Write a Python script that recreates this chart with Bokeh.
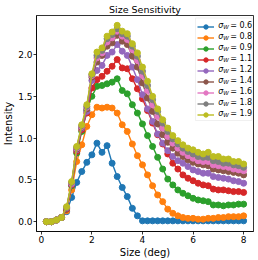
from bokeh.plotting import figure
from bokeh.models import Range1d, FixedTicker, PrintfTickFormatter, Legend, LegendItem, Label, BoxAnnotation
from bokeh.core.properties import value
from bokeh.embed import file_html
from bokeh.resources import INLINE

size_deg = [0.2, 0.4, 0.6, 0.8, 1.0, 1.2, 1.4, 1.6, 1.8, 2.0,
            2.2, 2.4, 2.6, 2.8, 3.0, 3.2, 3.4, 3.6, 3.8, 4.0,
            4.2, 4.4, 4.6, 4.8, 5.0, 5.2, 5.4, 5.6, 5.8, 6.0,
            6.2, 6.4, 6.6, 6.8, 7.0, 7.2, 7.4, 7.6, 7.8, 8.0]

sigma_w_labels = ["0.6", "0.8", "0.9", "1.1", "1.2", "1.4", "1.6", "1.8", "1.9"]

int_06 = [0.00, 0.00, 0.02, 0.05, 0.12, 0.29, 0.47, 0.60, 0.71, 0.80,
          0.94, 0.83, 0.91, 0.70, 0.54, 0.41, 0.30, 0.16, 0.07, 0.01,
          0.01, 0.01, 0.01, 0.01, 0.01, 0.01, 0.01, 0.01, 0.01, 0.01,
          0.01, 0.01, 0.01, 0.01, 0.01, 0.01, 0.01, 0.01, 0.01, 0.01]
int_08 = [0.00, 0.00, 0.02, 0.05, 0.13, 0.38, 0.72, 0.92, 1.14, 1.28,
          1.37, 1.36, 1.37, 1.36, 1.30, 1.16, 1.08, 0.93, 0.79, 0.68,
          0.56, 0.43, 0.32, 0.24, 0.15, 0.10, 0.07, 0.05, 0.04, 0.04,
          0.03, 0.03, 0.04, 0.04, 0.05, 0.05, 0.06, 0.06, 0.06, 0.07]
int_09 = [0.00, 0.00, 0.02, 0.05, 0.15, 0.43, 0.82, 1.08, 1.33, 1.50,
          1.62, 1.63, 1.65, 1.67, 1.71, 1.57, 1.53, 1.40, 1.30, 1.17,
          1.03, 0.90, 0.77, 0.63, 0.51, 0.44, 0.38, 0.34, 0.31, 0.28,
          0.26, 0.25, 0.24, 0.20, 0.20, 0.19, 0.20, 0.20, 0.21, 0.21]
int_11 = [0.00, 0.00, 0.02, 0.05, 0.15, 0.44, 0.84, 1.10, 1.30, 1.60,
          1.70, 1.74, 1.80, 1.86, 1.94, 1.84, 1.83, 1.71, 1.59, 1.47,
          1.33, 1.18, 1.04, 0.93, 0.81, 0.70, 0.63, 0.56, 0.52, 0.49,
          0.46, 0.44, 0.43, 0.39, 0.38, 0.38, 0.37, 0.36, 0.36, 0.35]
int_12 = [0.00, 0.00, 0.02, 0.05, 0.16, 0.45, 0.86, 1.12, 1.32, 1.69,
          1.81, 1.87, 1.99, 2.03, 2.12, 2.04, 1.99, 1.85, 1.70, 1.52,
          1.35, 1.20, 1.05, 0.94, 0.85, 0.78, 0.73, 0.70, 0.66, 0.62,
          0.60, 0.58, 0.58, 0.54, 0.53, 0.52, 0.51, 0.49, 0.48, 0.46]
int_14 = [0.00, 0.00, 0.02, 0.05, 0.16, 0.46, 0.87, 1.13, 1.35, 1.73,
          1.91, 1.99, 2.10, 2.14, 2.23, 2.16, 2.12, 1.98, 1.85, 1.66,
          1.48, 1.32, 1.17, 1.04, 0.95, 0.88, 0.82, 0.78, 0.74, 0.71,
          0.69, 0.68, 0.67, 0.63, 0.62, 0.61, 0.60, 0.59, 0.58, 0.56]
int_16 = [0.00, 0.00, 0.02, 0.05, 0.17, 0.46, 0.88, 1.14, 1.37, 1.75,
          1.96, 2.02, 2.15, 2.20, 2.28, 2.22, 2.18, 2.06, 1.93, 1.75,
          1.57, 1.40, 1.26, 1.12, 1.02, 0.94, 0.88, 0.83, 0.79, 0.76,
          0.73, 0.72, 0.72, 0.68, 0.67, 0.66, 0.65, 0.63, 0.62, 0.61]
int_18 = [0.00, 0.00, 0.02, 0.05, 0.17, 0.47, 0.89, 1.15, 1.38, 1.76,
          1.99, 2.05, 2.19, 2.24, 2.31, 2.25, 2.22, 2.10, 1.98, 1.80,
          1.63, 1.46, 1.32, 1.18, 1.08, 0.99, 0.93, 0.88, 0.84, 0.81,
          0.78, 0.77, 0.77, 0.73, 0.72, 0.70, 0.70, 0.68, 0.67, 0.65]
int_19 = [0.00, 0.00, 0.02, 0.05, 0.18, 0.48, 0.90, 1.16, 1.40, 1.77,
          2.03, 2.08, 2.22, 2.27, 2.35, 2.28, 2.25, 2.13, 2.02, 1.85,
          1.68, 1.50, 1.35, 1.22, 1.12, 1.03, 0.97, 0.92, 0.88, 0.86,
          0.83, 0.81, 0.83, 0.78, 0.78, 0.75, 0.75, 0.72, 0.72, 0.69]

series = [int_06, int_08, int_09, int_11, int_12, int_14, int_16, int_18, int_19]
colors = ["#1f77b4", "#ff7f0e", "#2ca02c", "#d62728", "#9467bd",
          "#8c564b", "#e377c2", "#7f7f7f", "#bcbd22"]

x_ticks = [0, 2, 4, 6, 8]
y_ticks = [0.0, 0.5, 1.0, 1.5, 2.0]

xmin, xmax = min(size_deg), max(size_deg)
ymin = min(min(s) for s in series)
ymax = max(max(s) for s in series)
xpad = 0.05 * (xmax - xmin)
ypad = 0.05 * (ymax - ymin)
X0, X1 = xmin - xpad, xmax + xpad
Y0, Y1 = ymin - ypad, ymax + ypad

FONT = "DejaVu Sans"
W, H = 258, 260
B_LEFT, B_RIGHT, B_TOP, B_BOTTOM = 34, 5, 14, 29

p = figure(width=W, height=H, output_backend="svg", toolbar_location=None,
           x_range=Range1d(X0, X1), y_range=Range1d(Y0, Y1),
           title="Size Sensitivity")
p.min_border_left = B_LEFT
p.min_border_right = B_RIGHT
p.min_border_top = B_TOP
p.min_border_bottom = B_BOTTOM

p.title.text_font = FONT
p.title.text_font_size = "9.5px"
p.title.text_font_style = "normal"
p.title.text_color = "black"
p.title.align = "center"
p.title.standoff = 2
p.title.offset = 0

p.xgrid.visible = False
p.ygrid.visible = False
p.outline_line_color = "black"
p.outline_line_width = 0.8
p.background_fill_color = "white"
p.border_fill_color = "white"

for ax in (p.xaxis[0], p.yaxis[0]):
    ax.axis_line_color = "black"
    ax.axis_line_width = 0.8
    ax.major_tick_line_color = "black"
    ax.major_tick_line_width = 0.8
    ax.major_tick_out = 3
    ax.major_tick_in = 0
    ax.minor_tick_line_color = None
    ax.major_label_text_font = FONT
    ax.major_label_text_font_size = "9px"
    ax.major_label_text_color = "black"
    ax.major_label_standoff = 1
    ax.axis_label_text_font = FONT
    ax.axis_label_text_font_size = "10px"
    ax.axis_label_text_font_style = "normal"
    ax.axis_label_text_color = "black"
    ax.axis_label_standoff = 1

p.xaxis.ticker = FixedTicker(ticks=x_ticks)
p.yaxis.ticker = FixedTicker(ticks=y_ticks)
p.xaxis.formatter = PrintfTickFormatter(format="%d")
p.yaxis.formatter = PrintfTickFormatter(format="%.1f")
p.xaxis.axis_label = "Size (deg)"
p.yaxis.axis_label = "Intensity"

renderers = []
for vals, col in zip(series, colors):
    lr = p.line(size_deg, vals, line_color=col, line_width=1.4)
    sr = p.scatter(size_deg, vals, size=6, fill_color=col, line_color=col)
    renderers.append((lr, sr))

# ---- legend layout (pixels, relative to frame bottom-left) ----
frame_w = W - B_LEFT - B_RIGHT
frame_h = H - B_TOP - B_BOTTOM
LEG_PAD, ROW_H, GLYPH_W, STANDOFF, LABEL_W = 2, 11, 17, 4, 32
leg_w = 2 * LEG_PAD + GLYPH_W + STANDOFF + LABEL_W
leg_h = 2 * LEG_PAD + len(series) * ROW_H
leg_x0 = frame_w - 1.5 - leg_w
leg_y0 = frame_h - 2.5 - leg_h

def dx(px):
    return X0 + px * (X1 - X0) / frame_w

def dy(px):
    return Y0 + px * (Y1 - Y0) / frame_h

# legend frame box
p.add_layout(BoxAnnotation(left=dx(leg_x0), right=dx(leg_x0 + leg_w),
                           bottom=dy(leg_y0), top=dy(leg_y0 + leg_h),
                           fill_color="white", fill_alpha=0.8,
                           line_color="#cccccc", line_width=1, level="annotation"))

items = [LegendItem(label=value(" "), renderers=[lr, sr]) for lr, sr in renderers]
legend = Legend(items=items, location=(leg_x0, leg_y0))
legend.margin = 0
legend.padding = LEG_PAD
legend.spacing = 0
legend.glyph_width = GLYPH_W
legend.glyph_height = ROW_H
legend.label_height = ROW_H
legend.label_width = 4
legend.label_standoff = STANDOFF
legend.label_text_font_size = "7px"
legend.border_line_color = None
legend.background_fill_color = None
legend.background_fill_alpha = 0
p.add_layout(legend)

# legend labels: sigma with subscript W
text_x = leg_x0 + LEG_PAD + GLYPH_W + STANDOFF
for i, lab in enumerate(sigma_w_labels):
    cy = leg_y0 + leg_h - LEG_PAD - (i + 0.5) * ROW_H
    p.add_layout(Label(x=dx(text_x), y=dy(cy), level="overlay",
                       text="σ", text_font=FONT, text_font_size="8px", text_color="black",
                       text_font_style="italic", text_baseline="middle", text_align="left"))
    p.add_layout(Label(x=dx(text_x + 4.9), y=dy(cy - 2), level="overlay",
                       text="W", text_font=FONT, text_font_size="5.6px", text_color="black",
                       text_font_style="italic", text_baseline="middle", text_align="left"))
    p.add_layout(Label(x=dx(text_x + 12), y=dy(cy), level="overlay",
                       text="= " + lab, text_font=FONT, text_font_size="8px", text_color="black",
                       text_baseline="middle", text_align="left"))

open("out.html", "w").write(file_html(p, INLINE))
